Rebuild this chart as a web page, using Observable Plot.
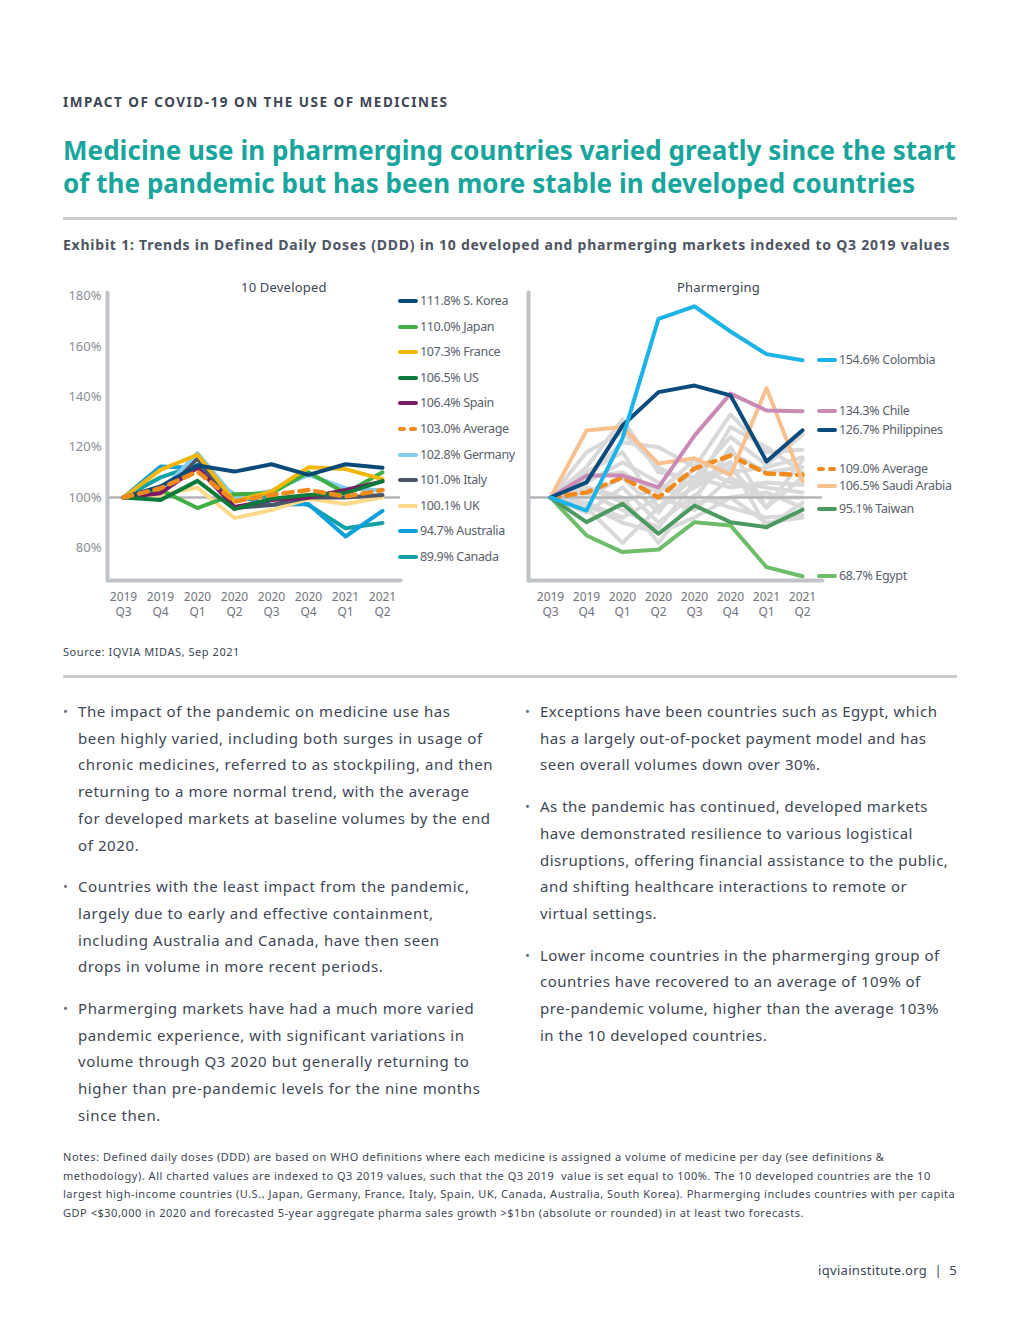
<!DOCTYPE html>
<html><head><meta charset="utf-8">
<script src="https://cdn.jsdelivr.net/npm/d3@7"></script>
<script src="https://cdn.jsdelivr.net/npm/@observablehq/plot@0.6"></script>
<style>
body{margin:0;background:#fff;font-family:"Noto Sans",sans-serif;color:#3d4655;}
#page{position:relative;width:1020px;height:1320px;overflow:hidden;background:#fff;}
.abs{position:absolute;white-space:nowrap;}
.rule{position:absolute;left:63px;width:894px;height:3px;background:#c9cbce;}
.col p{margin:0 0 15px 0;position:relative;padding-left:15px;}
.col p::before{content:"•";position:absolute;left:0;top:0;font-size:13px;color:#6a717c;}
.col{position:absolute;font-size:15px;line-height:26.7px;letter-spacing:0.6px;color:#3d4655;white-space:nowrap;}
.leg{position:absolute;font-size:12.5px;letter-spacing:-0.35px;color:#5a616b;white-space:nowrap;line-height:16px;}
.sw{position:absolute;height:4px;border-radius:2px;}
.plotbox{position:absolute;}
</style></head><body><div id="page">
<div class="abs" style="left:63px;top:93px;font-size:13.5px;line-height:18px;font-weight:700;letter-spacing:1.5px;color:#3d4655;">IMPACT OF COVID-19 ON THE USE OF MEDICINES</div>
<div class="abs" id="title" style="left:63px;top:134px;font-size:26px;line-height:33px;font-weight:700;color:#17a59c;letter-spacing:0.05px;">Medicine use in pharmerging countries varied greatly since the start<br>of the pandemic but has been more stable in developed countries</div>
<div class="rule" style="top:217px;"></div>
<div class="abs" style="left:63px;top:235px;font-size:14px;line-height:20px;font-weight:700;letter-spacing:0.77px;color:#4d5562;">Exhibit 1: Trends in Defined Daily Doses (DDD) in 10 developed and pharmerging markets indexed to Q3 2019 values</div>
<div class="abs" style="left:241px;top:278px;font-size:13px;line-height:18px;letter-spacing:0.2px;color:#3d4655;">10 Developed</div>
<div class="abs" style="left:677px;top:278px;font-size:13px;line-height:18px;letter-spacing:0.2px;color:#3d4655;">Pharmerging</div>
<div id="leftPlot" class="plotbox" style="left:60px;top:280px;"></div>
<div id="rightPlot" class="plotbox" style="left:515px;top:280px;"></div>
<div id="legends"></div>
<div class="abs" style="left:63px;top:644px;font-size:11px;line-height:16px;letter-spacing:0.55px;color:#3d4655;">Source: IQVIA MIDAS, Sep 2021</div>
<div class="rule" style="top:675px;"></div>
<div class="col" style="left:63px;top:698px;">
<p>The impact of the pandemic on medicine use has<br>been highly varied, including both surges in usage of<br>chronic medicines, referred to as stockpiling, and then<br>returning to a more normal trend, with the average<br>for developed markets at baseline volumes by the end<br>of 2020.</p>
<p>Countries with the least impact from the pandemic,<br>largely due to early and effective containment,<br>including Australia and Canada, have then seen<br>drops in volume in more recent periods.</p>
<p>Pharmerging markets have had a much more varied<br>pandemic experience, with significant variations in<br>volume through Q3 2020 but generally returning to<br>higher than pre-pandemic levels for the nine months<br>since then.</p>
</div>
<div class="col" style="left:525px;top:698px;letter-spacing:0.5px;">
<p>Exceptions have been countries such as Egypt, which<br>has a largely out-of-pocket payment model and has<br>seen overall volumes down over 30%.</p>
<p>As the pandemic has continued, developed markets<br>have demonstrated resilience to various logistical<br>disruptions, offering financial assistance to the public,<br>and shifting healthcare interactions to remote or<br>virtual settings.</p>
<p>Lower income countries in the pharmerging group of<br>countries have recovered to an average of 109% of<br>pre-pandemic volume, higher than the average 103%<br>in the 10 developed countries.</p>
</div>
<div class="abs" style="left:63px;top:1148px;font-size:11px;line-height:18.5px;letter-spacing:0.52px;color:#3d4655;">Notes: Defined daily doses (DDD) are based on WHO definitions where each medicine is assigned a volume of medicine per day (see definitions &amp;<br>methodology). All charted values are indexed to Q3 2019 values, such that the Q3 2019&nbsp; value is set equal to 100%. The 10 developed countries are the 10<br>largest high-income countries (U.S., Japan, Germany, France, Italy, Spain, UK, Canada, Australia, South Korea). Pharmerging includes countries with per capita<br>GDP &lt;$30,000 in 2020 and forecasted 5-year aggregate pharma sales growth &gt;$1bn (absolute or rounded) in at least two forecasts.</div>
<div class="abs" style="right:63px;top:1261px;font-size:13px;line-height:18px;letter-spacing:0.3px;color:#3d4655;">iqviainstitute.org&nbsp; |&nbsp; 5</div>
</div>
<script>
// ---------- data ----------
const quarters = ["2019 Q3","2019 Q4","2020 Q1","2020 Q2","2020 Q3","2020 Q4","2021 Q1","2021 Q2"];
const yTicks = [80, 100, 120, 140, 160, 180];

// 10 developed markets (index, Q3 2019 = 100)
const devSKorea    = [100, 104.4, 112.7, 110.3, 113.2, 109.0, 113.2, 111.8];
const devJapan     = [100, 103.0, 95.8, 101.3, 101.7, 110.0, 101.7, 110.0];
const devFrance    = [100, 111.0, 117.0, 98.4, 102.4, 112.0, 111.3, 107.3];
const devUS        = [100, 99.0, 106.6, 95.4, 99.5, 101.0, 101.7, 106.5];
const devSpain     = [100, 101.7, 111.9, 96.2, 99.0, 100.0, 103.0, 106.4];
const devAverage   = [100, 103.7, 110.3, 98.4, 101.0, 103.0, 100.4, 103.0];
const devGermany   = [100, 102.4, 117.6, 100.0, 102.6, 109.0, 103.7, 102.8];
const devItaly     = [100, 102.6, 115.4, 95.8, 97.0, 100.0, 100.0, 101.0];
const devUK        = [100, 101.0, 104.0, 91.8, 95.0, 99.5, 97.4, 100.1];
const devAustralia = [100, 112.3, 111.7, 101.0, 97.0, 97.4, 84.5, 94.7];
const devCanada    = [100, 108.0, 113.0, 100.0, 100.5, 97.0, 87.8, 89.9];
const devNames  = ["S. Korea","Japan","France","US","Spain","Average","Germany","Italy","UK","Australia","Canada"];
const devSeries = [devSKorea, devJapan, devFrance, devUS, devSpain, devAverage, devGermany, devItaly, devUK, devAustralia, devCanada];
const devColors = ["#0b4a78","#3fae44","#f2b705","#0b7a3b","#7b1a63","#f08a1c","#85ccef","#4b5568","#fcd98b","#0f9fda","#13a3a5"];

// Pharmerging markets, highlighted
const phColombia    = [100, 94.8, 123.5, 171.0, 176.0, 166.0, 157.0, 154.6];
const phChile       = [100, 108.7, 108.7, 104.0, 124.6, 141.3, 134.6, 134.3];
const phPhilippines = [100, 106.0, 128.6, 141.9, 144.5, 140.6, 114.3, 126.7];
const phAverage     = [100, 102.0, 108.0, 100.0, 111.5, 116.7, 109.5, 109.0];
const phSaudi       = [100, 126.6, 128.0, 113.5, 115.6, 109.0, 143.5, 106.5];
const phTaiwan      = [100, 90.2, 97.5, 85.6, 96.8, 90.2, 88.2, 95.1];
const phEgypt       = [100, 84.9, 78.3, 79.3, 90.2, 88.9, 72.3, 68.7];
const phNames  = ["Colombia","Chile","Philippines","Average","Saudi Arabia","Taiwan","Egypt"];
const phSeries = [phColombia, phChile, phPhilippines, phAverage, phSaudi, phTaiwan, phEgypt];
const phColors = ["#1cb3e6","#c98bb6","#0c4c7c","#f08a1c","#f9c08f","#4c9a62","#6dbd69"];

// Other pharmerging markets (grey)
const phOthers = [
  [100, 112, 131, 110, 108, 124, 113, 125],
  [100, 108, 122, 120, 112, 133, 118, 119],
  [100, 96, 82, 96, 104, 112, 96, 115],
  [100, 104, 100, 82, 100, 118, 110, 112],
  [100, 110, 118, 96, 108, 104, 106, 105],
  [100, 98, 92, 100, 95, 108, 100, 100],
  [100, 102, 95, 88, 106, 114, 88, 98],
  [100, 106, 114, 106, 98, 100, 102, 96],
  [100, 94, 104, 90, 101, 96, 92, 93],
  [100, 118, 126, 112, 104, 128, 120, 110],
  [100, 100, 108, 94, 112, 106, 104, 102],
  [100, 104, 98, 104, 99, 120, 96, 108],
  [100, 97, 90, 86, 92, 100, 90, 92],
  [100, 108, 110, 102, 115, 110, 112, 116]
];

// ---------- tidy tables ----------
const toRows = (names, series) => names.flatMap((name, k) => series[k].map((v, i) => ({name, q: quarters[i], v})));
const devRows = toRows(devNames, devSeries);
const phRows = toRows(phNames, phSeries);
const otherRows = phOthers.flatMap((s, k) => s.map((v, i) => ({name: "o" + k, q: quarters[i], v})));

const axisStroke = "#c0c3c7";
const yDomain = [67, 181.5];
const common = {
  height: 345, marginTop: 12, marginBottom: 45,
  style: {fontFamily: "Noto Sans", background: "transparent", overflow: "visible"}
};
const xAxis = () => Plot.axisX({tickSize: 0, tickPadding: 9, tickFormat: q => q.replace(" ", "\n"), fontSize: 12, lineHeight: 1.3, color: "#6f747c", label: null});

const drawOrderDev = ["Canada","Australia","UK","Italy","Germany","Japan","France","Spain","US","S. Korea"];
const left = Plot.plot({
  ...common,
  width: 345, marginLeft: 47, marginRight: 5,
  x: {type: "point", domain: quarters, range: [60, 324], padding: 0},
  y: {domain: yDomain},
  color: {domain: devNames, range: devColors},
  marks: [
    Plot.ruleY([100], {stroke: "#b2b5ba", strokeWidth: 2.5}),
    Plot.line(drawOrderDev.flatMap(n => devRows.filter(d => d.name === n)), {x: "q", y: "v", z: "name", stroke: "name", strokeWidth: 4, strokeLinejoin: "round"}),
    Plot.line(devRows.filter(d => d.name === "Average"), {x: "q", y: "v", stroke: "name", strokeWidth: 4.5, strokeDasharray: "9,7", strokeLinecap: "round"}),
    Plot.frame({anchor: "left", stroke: axisStroke, strokeWidth: 4, strokeLinecap: "round"}),
    Plot.frame({anchor: "bottom", stroke: axisStroke, strokeWidth: 4, strokeLinecap: "round"}),
    Plot.axisY(yTicks, {tickSize: 0, tickPadding: 6, tickFormat: d => d + "%", fontSize: 13, color: "#8a8e95", label: null}),
    xAxis()
  ]
});
document.getElementById("leftPlot").append(left);

const drawOrderPh = ["Egypt","Taiwan","Saudi Arabia","Chile","Philippines","Colombia"];
const right = Plot.plot({
  ...common,
  width: 312, marginLeft: 13, marginRight: 5,
  x: {type: "point", domain: quarters, range: [32, 290], padding: 0},
  y: {domain: yDomain, axis: null},
  color: {domain: phNames, range: phColors},
  marks: [
    Plot.line(otherRows, {x: "q", y: "v", z: "name", stroke: "#d9d9d9", strokeWidth: 4, strokeLinejoin: "round"}),
    Plot.ruleY([100], {stroke: "#b2b5ba", strokeWidth: 2.5}),
    Plot.line(phRows.filter(d => d.name === "Average"), {x: "q", y: "v", stroke: "name", strokeWidth: 4.5, strokeDasharray: "9,7", strokeLinecap: "round"}),
    Plot.line(drawOrderPh.flatMap(n => phRows.filter(d => d.name === n)), {x: "q", y: "v", z: "name", stroke: "name", strokeWidth: 4, strokeLinejoin: "round"}),
    Plot.frame({anchor: "left", stroke: axisStroke, strokeWidth: 4, strokeLinecap: "round"}),
    Plot.frame({anchor: "bottom", stroke: axisStroke, strokeWidth: 4, strokeLinecap: "round"}),
    xAxis()
  ]
});
document.getElementById("rightPlot").append(right);

// ---------- legends ----------
const legends = document.getElementById("legends");
function addItem(x, cy, color, label, dashed) {
  if (dashed) {
    [0, 11].forEach(o => {
      const s = document.createElement("div");
      s.className = "sw"; s.style.left = (x + o) + "px"; s.style.top = (cy - 2) + "px";
      s.style.width = "8px"; s.style.background = color; legends.append(s);
    });
  } else {
    const s = document.createElement("div");
    s.className = "sw"; s.style.left = x + "px"; s.style.top = (cy - 2) + "px";
    s.style.width = "20px"; s.style.background = color; legends.append(s);
  }
  const t = document.createElement("div");
  t.className = "leg"; t.style.left = (x + 22) + "px"; t.style.top = (cy - 8) + "px";
  t.textContent = label; legends.append(t);
}
const fmt = v => v.toFixed(1) + "%";
// developed: stacked list, ordered by final value
devNames.forEach((n, i) => addItem(398, 301 + i * 25.6, devColors[i], fmt(devSeries[i][7]) + " " + n, n === "Average"));
// pharmerging: labels at line ends, dodged
const ys = right.scale("y");
const top0 = 280;
let lab = phNames.map((n, i) => ({n, i, y: top0 + ys.apply(phSeries[i][7])}));
lab.sort((a, b) => a.y - b.y);
for (let it = 0; it < 20; it++) {
  for (let k = 1; k < lab.length; k++) {
    const gap = lab[k].y - lab[k - 1].y;
    if (gap < 17) { const d = (17 - gap) / 2; lab[k].y += d; lab[k - 1].y -= d; }
  }
}
lab.forEach(d => addItem(817, d.y, phColors[d.i], fmt(phSeries[d.i][7]) + " " + d.n, d.n === "Average"));
</script>
</body></html>
